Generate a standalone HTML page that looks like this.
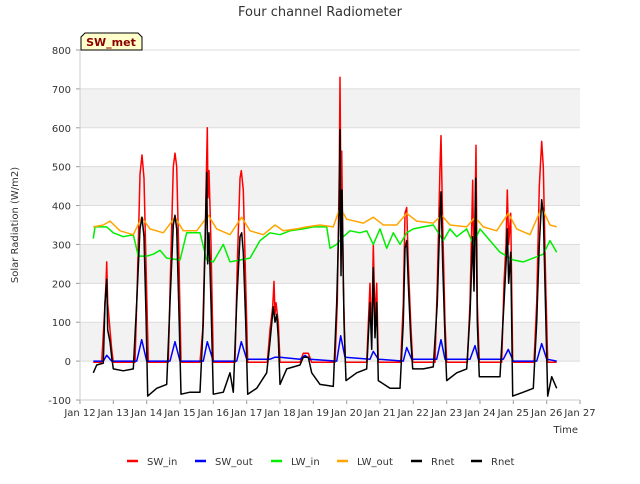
<!DOCTYPE html>
<html><head><meta charset="utf-8"><style>
body{margin:0;background:#fff;font-family:"DejaVu Sans","Liberation Sans",sans-serif}
svg text{font-family:"DejaVu Sans","Liberation Sans",sans-serif}
</style></head><body>
<svg id="c" width="640" height="480"></svg>
<script>
const xTickLabels=["Jan 12","Jan 13","Jan 14","Jan 15","Jan 16","Jan 17","Jan 18","Jan 19","Jan 20","Jan 21","Jan 22","Jan 23","Jan 24","Jan 25","Jan 26","Jan 27"];
const yTicks=[-100,0,100,200,300,400,500,600,700,800];
const swIn=[[12.4,-3],[12.65,-3],[12.72,100],[12.78,200],[12.8,255],[12.83,150],[12.9,80],[12.95,30],[13.0,-3],
[13.65,-3],[13.72,200],[13.8,480],[13.86,530],[13.92,470],[13.98,250],[14.05,-3],
[14.65,-3],[14.72,250],[14.8,500],[14.85,535],[14.9,500],[14.97,250],[15.03,-3],
[15.6,-3],[15.68,80],[15.75,300],[15.82,600],[15.84,420],[15.87,490],[15.93,300],[16.0,-3],
[16.65,-3],[16.72,250],[16.8,470],[16.84,490],[16.9,440],[16.97,200],[17.03,-3],
[17.62,-3],[17.7,80],[17.78,140],[17.82,205],[17.85,120],[17.88,150],[17.95,100],[18.0,-3],
[18.6,-3],[18.7,20],[18.85,20],[18.95,-3],
[19.65,-3],[19.72,150],[19.78,500],[19.8,730],[19.83,400],[19.85,540],[19.9,200],[19.96,-3],
[20.6,-3],[20.7,200],[20.75,50],[20.8,300],[20.85,100],[20.9,200],[20.95,-3],
[21.62,-3],[21.7,150],[21.75,380],[21.8,395],[21.85,250],[21.92,100],[21.98,-3],
[22.65,-3],[22.72,200],[22.8,500],[22.83,580],[22.88,350],[22.95,100],[23.0,-3],
[23.62,-3],[23.7,150],[23.78,465],[23.82,200],[23.88,555],[23.92,150],[23.98,-3],
[24.65,-3],[24.72,200],[24.78,300],[24.82,440],[24.86,300],[24.92,380],[24.98,-3],
[25.62,-3],[25.7,150],[25.78,450],[25.85,565],[25.9,500],[25.97,200],[26.03,-3],[26.3,-3]];
const swOut=[[12.4,0],[12.7,0],[12.8,15],[12.95,0],[13.7,0],[13.85,55],[14.0,0],[14.7,0],[14.85,50],[15.0,0],[15.7,0],[15.82,50],[16.0,0],[16.7,0],[16.84,50],[17.0,5],[17.7,5],[17.85,10],[18.0,10],[18.6,5],[18.75,15],[18.9,5],[19.7,0],[19.82,65],[19.95,10],[20.7,5],[20.8,25],[20.95,5],[21.7,0],[21.8,35],[21.95,5],[22.7,5],[22.83,55],[22.95,5],[23.7,5],[23.85,40],[23.95,5],[24.7,5],[24.85,30],[25.0,0],[25.7,0],[25.85,45],[26.0,5],[26.3,0]];
const lwIn=[[12.4,315],[12.45,345],[12.8,345],[13.0,330],[13.3,320],[13.6,325],[13.75,270],[14.0,270],[14.2,275],[14.4,285],[14.6,265],[15.0,260],[15.2,330],[15.6,330],[15.8,260],[16.0,255],[16.3,300],[16.5,255],[16.8,260],[17.1,265],[17.4,310],[17.7,330],[18.0,325],[18.3,335],[18.7,340],[19.0,345],[19.4,345],[19.5,290],[19.7,300],[19.9,320],[20.1,335],[20.4,330],[20.6,335],[20.8,300],[21.0,340],[21.2,290],[21.4,330],[21.6,300],[21.8,330],[22.0,340],[22.3,345],[22.6,350],[22.9,310],[23.1,340],[23.3,320],[23.6,340],[23.8,300],[24.0,340],[24.3,310],[24.6,280],[24.8,270],[25.0,260],[25.3,255],[25.6,265],[25.9,275],[26.1,310],[26.3,280]];
const lwOut=[[12.4,345],[12.7,350],[12.9,360],[13.2,335],[13.6,325],[13.85,370],[14.1,340],[14.5,330],[14.85,370],[15.1,335],[15.5,335],[15.85,375],[16.1,340],[16.5,325],[16.85,370],[17.1,335],[17.5,325],[17.85,350],[18.1,335],[18.5,340],[18.8,345],[19.2,350],[19.6,345],[19.8,395],[20.0,365],[20.5,355],[20.8,370],[21.1,350],[21.5,350],[21.8,380],[22.1,360],[22.6,355],[22.85,375],[23.1,350],[23.6,345],[23.85,370],[24.1,345],[24.5,335],[24.85,380],[25.1,340],[25.5,325],[25.85,395],[26.1,350],[26.3,345]];
const rnet=[[12.4,-30],[12.5,-10],[12.7,-5],[12.75,150],[12.8,210],[12.83,80],[12.9,50],[12.95,10],[13.0,-20],[13.3,-25],[13.6,-20],[13.7,150],[13.8,340],[13.86,370],[13.92,320],[13.98,120],[14.03,-90],[14.3,-70],[14.6,-60],[14.7,150],[14.8,350],[14.85,375],[14.9,340],[14.97,120],[15.03,-85],[15.3,-80],[15.6,-80],[15.7,100],[15.8,485],[15.83,250],[15.87,330],[15.93,150],[16.0,-85],[16.3,-80],[16.5,-30],[16.6,-80],[16.7,150],[16.8,320],[16.85,330],[16.9,280],[16.97,100],[17.03,-85],[17.3,-70],[17.6,-30],[17.7,50],[17.8,140],[17.85,100],[17.9,120],[17.95,60],[18.0,-60],[18.2,-20],[18.6,-10],[18.7,10],[18.85,10],[18.95,-30],[19.2,-60],[19.6,-65],[19.7,150],[19.78,400],[19.8,595],[19.83,220],[19.86,440],[19.92,100],[19.98,-50],[20.3,-30],[20.6,-20],[20.7,150],[20.75,30],[20.8,240],[20.85,60],[20.9,150],[20.95,-50],[21.3,-70],[21.6,-70],[21.7,100],[21.75,290],[21.8,310],[21.85,200],[21.92,60],[21.98,-20],[22.3,-20],[22.6,-15],[22.72,150],[22.8,380],[22.83,435],[22.88,250],[22.95,60],[23.0,-50],[23.3,-30],[23.6,-20],[23.7,120],[23.78,320],[23.82,180],[23.87,470],[23.92,100],[23.98,-40],[24.3,-40],[24.6,-40],[24.72,150],[24.78,250],[24.82,340],[24.86,200],[24.92,280],[24.98,-90],[25.3,-80],[25.6,-70],[25.7,100],[25.78,300],[25.85,415],[25.9,380],[25.97,120],[26.03,-90],[26.15,-40],[26.3,-70]];

const svg=document.getElementById('c');const NS='http://www.w3.org/2000/svg';
const X0=80,X1=580,Y0=50,Y1=400;
const xs=t=>X0+(t-12)*(X1-X0)/15;
const ys=v=>Y1-(v+100)*(Y1-Y0)/900;
function mk(tag,at,txt){const e=document.createElementNS(NS,tag);for(const k in at)e.setAttribute(k,at[k]);if(txt!==undefined)e.textContent=txt;svg.appendChild(e);return e;}
let e=mk('rect',{x:X0,y:Y0,width:X1-X0,height:Y1-Y0,fill:'#fff'});


[[600,700],[400,500],[200,300],[0,100]].forEach(b=>{const r=mk('rect',{x:X0,y:ys(b[1]),width:X1-X0,height:ys(b[0])-ys(b[1]),fill:'#f2f2f2'});

});
yTicks.forEach(v=>{const l=mk('line',{x1:X0,x2:X1,y1:ys(v),y2:ys(v),stroke:'#dcdcdc','stroke-width':1});


mk('line',{x1:X0-4,x2:X0,y1:ys(v),y2:ys(v),stroke:'#999'});
const t=mk('text',{x:X0-9,y:ys(v)+4,'text-anchor':'end','font-size':10,fill:'#333'},v);

});
xTickLabels.forEach((s,i)=>{mk('line',{x1:xs(12+i),x2:xs(12+i),y1:Y1,y2:Y1+4,stroke:'#999'});
const t=mk('text',{x:xs(12+i),y:Y1+16,'text-anchor':'middle','font-size':10,fill:'#333'},s);

});
mk('line',{x1:X0,x2:X0,y1:Y0,y2:Y1,stroke:'#ccc'});
mk('line',{x1:X0,x2:X1,y1:Y1,y2:Y1,stroke:'#ccc'});
function series(d,col,name){const p=mk('polyline',{points:d.map(q=>xs(q[0]).toFixed(1)+','+ys(q[1]).toFixed(1)).join(' '),fill:'none',stroke:col,'stroke-width':1.5,'stroke-linejoin':'round'});

}
series(swIn,'#ff0000','sw-in-line');
series(swOut,'#0000ff','sw-out-line');
series(lwIn,'#00ee00','lw-in-line');
series(lwOut,'#ffa500','lw-out-line');
series(rnet,'#000000','rnet-line');
e=mk('text',{x:320,y:16,'text-anchor':'middle','font-size':13,fill:'#333'},'Four channel Radiometer');


e=mk('text',{x:18,y:225,'text-anchor':'middle','font-size':10,fill:'#333',transform:'rotate(-90 18 225)'},'Solar Radiation (W/m2)');


e=mk('text',{x:578,y:433,'text-anchor':'end','font-size':10,fill:'#333'},'Time');


e=mk('path',{d:'M81,50 L81,37 L85,33 L138,33 L142,37 L142,50 Z',fill:'#ffffcc',stroke:'#000','stroke-width':1});


e=mk('text',{x:111,y:46,'text-anchor':'middle','font-size':11,'font-weight':'bold',fill:'#8b0000'},'SW_met');


const leg=[['SW_in','#ff0000',127],['SW_out','#0000ff',195],['LW_in','#00ee00',271],['LW_out','#ffa500',337],['Rnet','#000',411],['Rnet','#000',471]];
leg.forEach(l=>{const g=mk('line',{x1:l[2],x2:l[2]+11,y1:461,y2:461,stroke:l[1],'stroke-width':2.5});


const t=mk('text',{x:l[2]+20,y:465,'font-size':10,fill:'#333'},l[0]);

});
</script>
</body></html>
